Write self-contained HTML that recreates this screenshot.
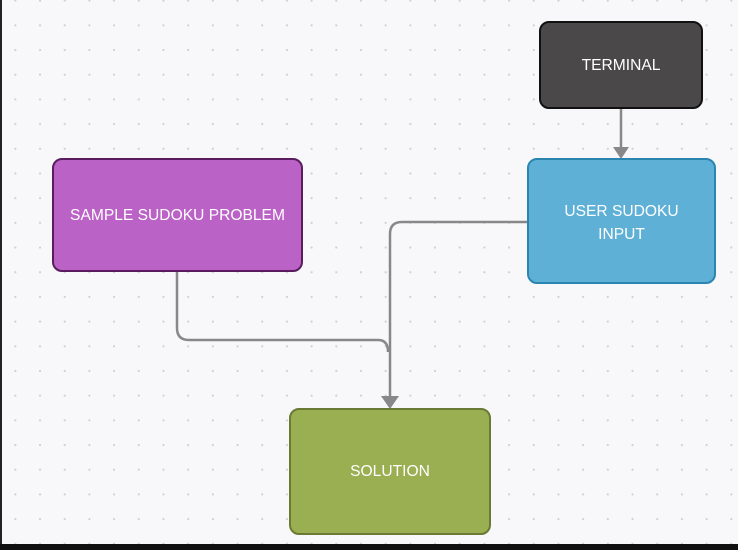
<!DOCTYPE html>
<html><head><style>
html,body{margin:0;padding:0;}
body{width:738px;height:550px;overflow:hidden;background:#f8f8fa;position:relative;font-family:"Liberation Sans",sans-serif;}
.dots{position:absolute;left:0;top:0;width:738px;height:545px;background-image:radial-gradient(circle,#cfd0d6 0.9px,transparent 1.3px);background-size:24.7px 24.7px;background-position:3px 13px;}
.b{position:absolute;box-sizing:border-box;border:2px solid;border-radius:10px;color:#fff;font-size:15.6px;display:flex;align-items:center;justify-content:center;text-align:center;line-height:23px;}
</style></head><body>
<div class="dots"></div>
<div style="position:absolute;left:0;top:0;width:2px;height:550px;background:#222"></div>
<div style="position:absolute;left:0;top:544px;width:738px;height:6px;background:#111"></div>
<svg width="738" height="550" style="position:absolute;left:0;top:0">
<g fill="none" stroke="#888" stroke-width="2.5">
<path d="M621 108 V148"/>
<path d="M527 222 H402 Q390 222 390 234 V396"/>
<path d="M177 271 V328 Q177 340 189 340 H378 Q388 340 388 352"/>
</g>
<path d="M613 147 L629 147 L621 159 Z" fill="#888"/>
<path d="M381 396 L399 396 L390 409 Z" fill="#888"/>
</svg>
<div class="b" style="left:539px;top:21px;width:164px;height:88px;background:#4a4849;border-color:#111">TERMINAL</div>
<div class="b" style="left:527px;top:158px;width:189px;height:126px;background:#5eb0d6;border-color:#2a86b0;padding:0 30px;align-items:flex-start;padding-top:40px">USER SUDOKU INPUT</div>
<div class="b" style="left:52px;top:158px;width:251px;height:114px;background:#ba62c6;border-color:#5a1c5f">SAMPLE SUDOKU PROBLEM</div>
<div class="b" style="left:289px;top:408px;width:202px;height:127px;background:#9aae52;border-color:#6a7a35">SOLUTION</div>
</body></html>
